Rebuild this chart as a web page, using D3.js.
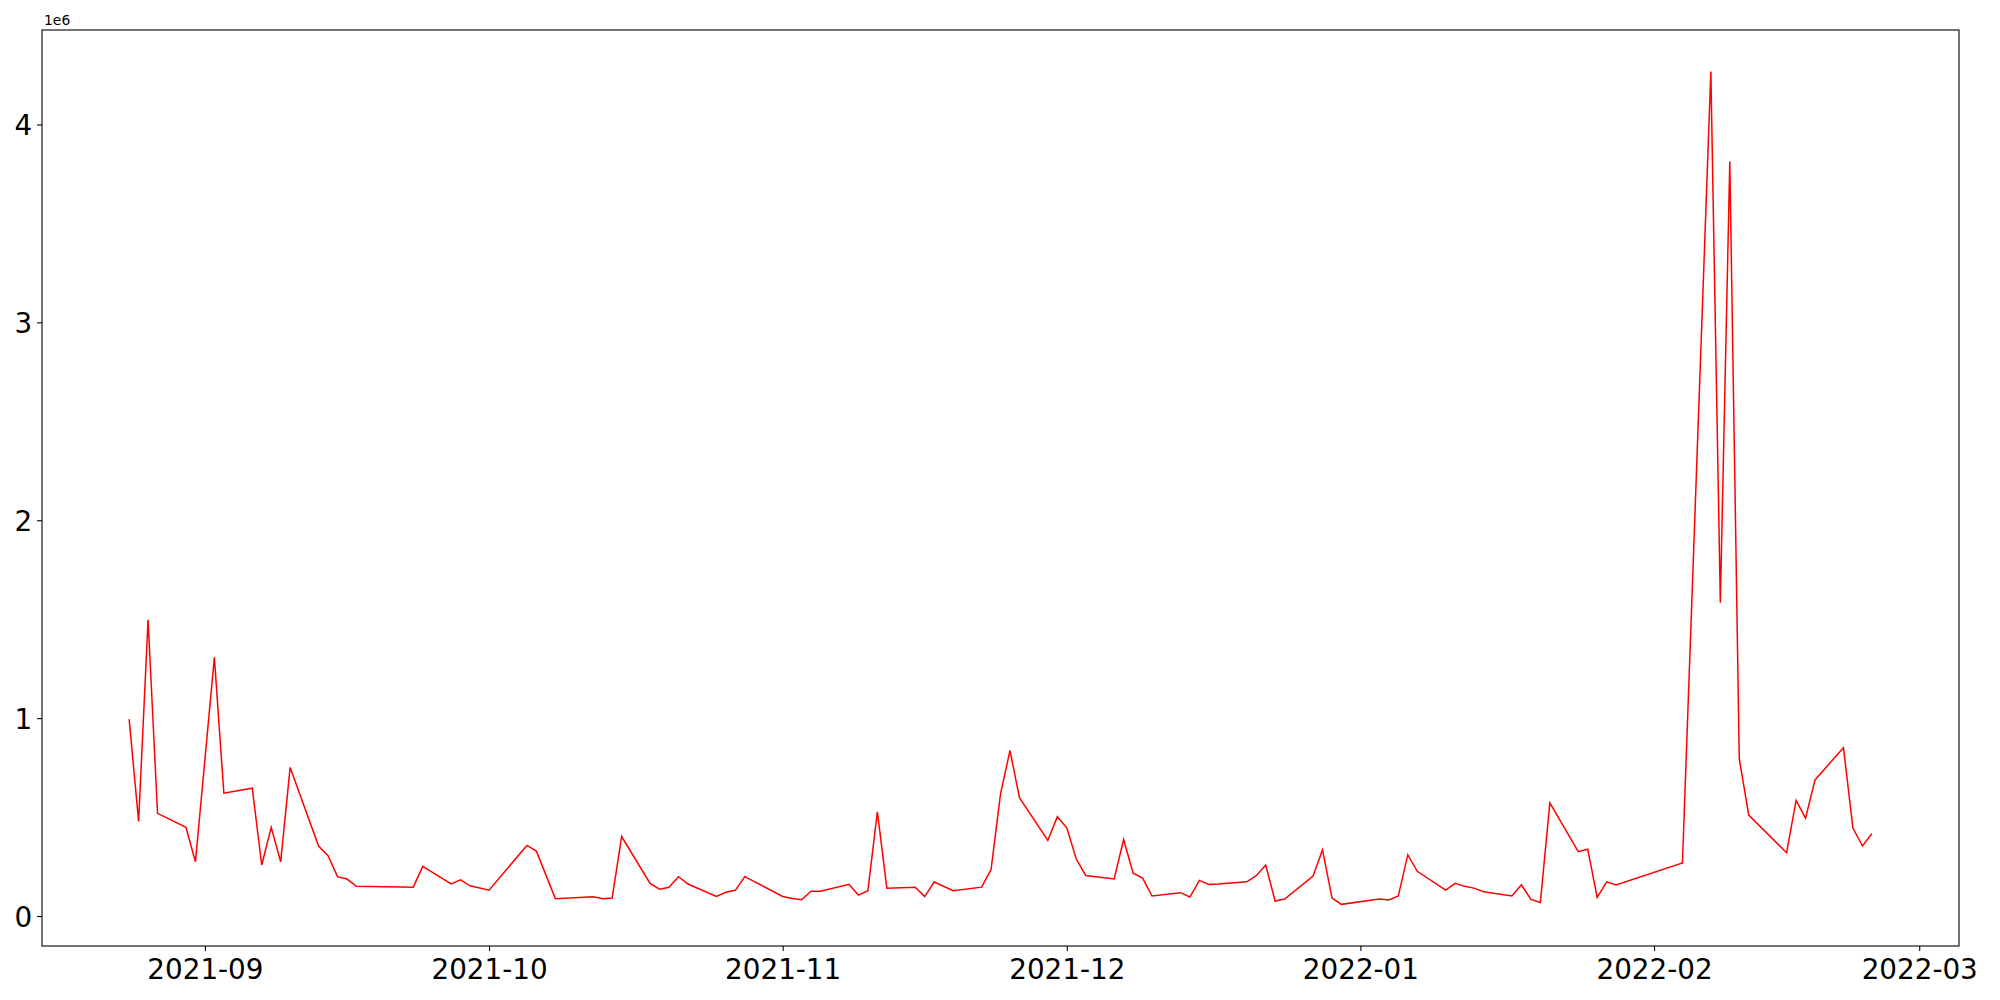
<!DOCTYPE html>
<html>
<head>
<meta charset="utf-8">
<script src="https://cdn.jsdelivr.net/npm/d3@7"></script>
<style>
  body { margin: 0; background: #fff; }
  text { font-family: "DejaVu Sans", sans-serif; }
</style>
</head>
<body>
<div id="chart"></div>
<script>
const dates = [
  "2021-08-24", "2021-08-25", "2021-08-26", "2021-08-27", "2021-08-30", "2021-08-31",
  "2021-09-02", "2021-09-03", "2021-09-06", "2021-09-07", "2021-09-08", "2021-09-09", "2021-09-10",
  "2021-09-13", "2021-09-14", "2021-09-15", "2021-09-16", "2021-09-17", "2021-09-23", "2021-09-24",
  "2021-09-27", "2021-09-28", "2021-09-29", "2021-10-01", "2021-10-05", "2021-10-06", "2021-10-08",
  "2021-10-12", "2021-10-13", "2021-10-14", "2021-10-15", "2021-10-18", "2021-10-19", "2021-10-20",
  "2021-10-21", "2021-10-22", "2021-10-25", "2021-10-26", "2021-10-27", "2021-10-28",
  "2021-11-01", "2021-11-02", "2021-11-03", "2021-11-04", "2021-11-05", "2021-11-08", "2021-11-09",
  "2021-11-10", "2021-11-11", "2021-11-12", "2021-11-15", "2021-11-16", "2021-11-17", "2021-11-19",
  "2021-11-22", "2021-11-23", "2021-11-24", "2021-11-25", "2021-11-26", "2021-11-29", "2021-11-30",
  "2021-12-01", "2021-12-02", "2021-12-03", "2021-12-06", "2021-12-07", "2021-12-08", "2021-12-09",
  "2021-12-10", "2021-12-13", "2021-12-14", "2021-12-15", "2021-12-16", "2021-12-17", "2021-12-20",
  "2021-12-21", "2021-12-22", "2021-12-23", "2021-12-24", "2021-12-27", "2021-12-28", "2021-12-29",
  "2021-12-30", "2022-01-03", "2022-01-04", "2022-01-05", "2022-01-06", "2022-01-07", "2022-01-10",
  "2022-01-11", "2022-01-12", "2022-01-13", "2022-01-14", "2022-01-17", "2022-01-18", "2022-01-19",
  "2022-01-20", "2022-01-21", "2022-01-24", "2022-01-25", "2022-01-26", "2022-01-27", "2022-01-28",
  "2022-02-04", "2022-02-07", "2022-02-08", "2022-02-09", "2022-02-10", "2022-02-11", "2022-02-15",
  "2022-02-16", "2022-02-17", "2022-02-18", "2022-02-21", "2022-02-22", "2022-02-23", "2022-02-24"
];

const values = [
  995000, 478000, 1497000, 519000, 448000, 274000,
  1307000, 621000, 646000, 258000, 448000, 274000, 751000,
  354000, 305000, 199000, 187000, 150000, 146000, 251000,
  162000, 183000, 153000, 131000, 357000, 328000, 88000,
  98000, 88000, 91000, 402000, 165000, 136000, 145000,
  199000, 162000, 99000, 120000, 130000, 199000,
  99000, 89000, 82000, 125000, 125000, 160000, 106000,
  128000, 527000, 141000, 146000, 98000, 172000, 128000,
  146000, 234000, 616000, 837000, 598000, 382000, 502000,
  446000, 288000, 205000, 187000, 387000, 216000, 192000,
  101000, 118000, 96000, 180000, 160000, 162000, 173000,
  204000, 258000, 76000, 86000, 202000, 335000, 91000,
  59000, 86000, 81000, 101000, 310000, 226000, 131000,
  165000, 150000, 141000, 123000, 101000, 158000, 84000,
  69000, 572000, 325000, 338000, 94000, 173000, 157000,
  268000, 4267000, 1583000, 3813000, 795000, 510000, 320000,
  584000, 495000, 688000, 851000, 445000, 354000, 416000
];

const yTicks = [0, 1e6, 2e6, 3e6, 4e6];
const xTickLabels = ["2021-09", "2021-10", "2021-11", "2021-12", "2022-01", "2022-02", "2022-03"];

const W = 2000, H = 1000;
const margin = { top: 30, right: 41, bottom: 54, left: 42 };
const width = W - margin.left - margin.right,
  height = H - margin.top - margin.bottom;

const parse = d3.timeParse("%Y-%m-%d");
const data = dates.map((d, i) => ({ date: parse(d), value: values[i] }));

const svgRoot = d3.select("#chart").append("svg")
  .attr("width", W)
  .attr("height", H)
  .style("background", "#fff");

const svg = svgRoot.append("g")
  .attr("transform", `translate(${margin.left},${margin.top})`);

// matplotlib-like 5% margins
const xExt = d3.extent(data, d => d.date.getTime());
const xPad = (xExt[1] - xExt[0]) * 0.05;
const yExt = d3.extent(data, d => d.value);
const yPad = (yExt[1] - yExt[0]) * 0.05;

const x = d3.scaleTime()
  .domain([new Date(xExt[0] - xPad), new Date(xExt[1] + xPad)])
  .range([0, width]);

const y = d3.scaleLinear()
  .domain([yExt[0] - yPad, yExt[1] + yPad])
  .range([height, 0]);

const fontSize = 27.8;

// x axis
const xTicks = xTickLabels.map(s => d3.timeParse("%Y-%m")(s));
const xAxis = svg.append("g")
  .attr("transform", `translate(0,${height})`)
  .call(d3.axisBottom(x).tickValues(xTicks).tickFormat(d3.timeFormat("%Y-%m")).tickSizeInner(4.9).tickSizeOuter(0).tickPadding(4.9));
xAxis.select(".domain").remove();
xAxis.selectAll("line").attr("stroke", "#000").attr("stroke-width", 1.1);
xAxis.selectAll("text")
  .attr("fill", "#000")
  .style("font-size", fontSize + "px")
  .attr("dy", null)
  .attr("y", 33);

// y axis
const yAxis = svg.append("g")
  .call(d3.axisLeft(y).tickValues(yTicks).tickFormat(d => d / 1e6).tickSizeInner(4.9).tickSizeOuter(0).tickPadding(4.9));
yAxis.select(".domain").remove();
yAxis.selectAll("line").attr("stroke", "#000").attr("stroke-width", 1.1);
yAxis.selectAll("text")
  .attr("fill", "#000")
  .style("font-size", fontSize + "px")
  .attr("dy", "0.36em");

// offset text
svg.append("text")
  .attr("x", 2)
  .attr("y", -5)
  .style("font-size", "13.9px")
  .attr("fill", "#000")
  .text("1e6");

// line
const line = d3.line()
  .x(d => x(d.date))
  .y(d => y(d.value));

svg.append("path")
  .datum(data)
  .attr("fill", "none")
  .attr("stroke", "#ff0000")
  .attr("stroke-width", 1.5)
  .attr("stroke-linejoin", "miter")
  .attr("d", line);

// frame
svg.append("rect")
  .attr("width", width)
  .attr("height", height)
  .attr("fill", "none")
  .attr("stroke", "#000")
  .attr("stroke-width", 1.1);
</script>
</body>
</html>
